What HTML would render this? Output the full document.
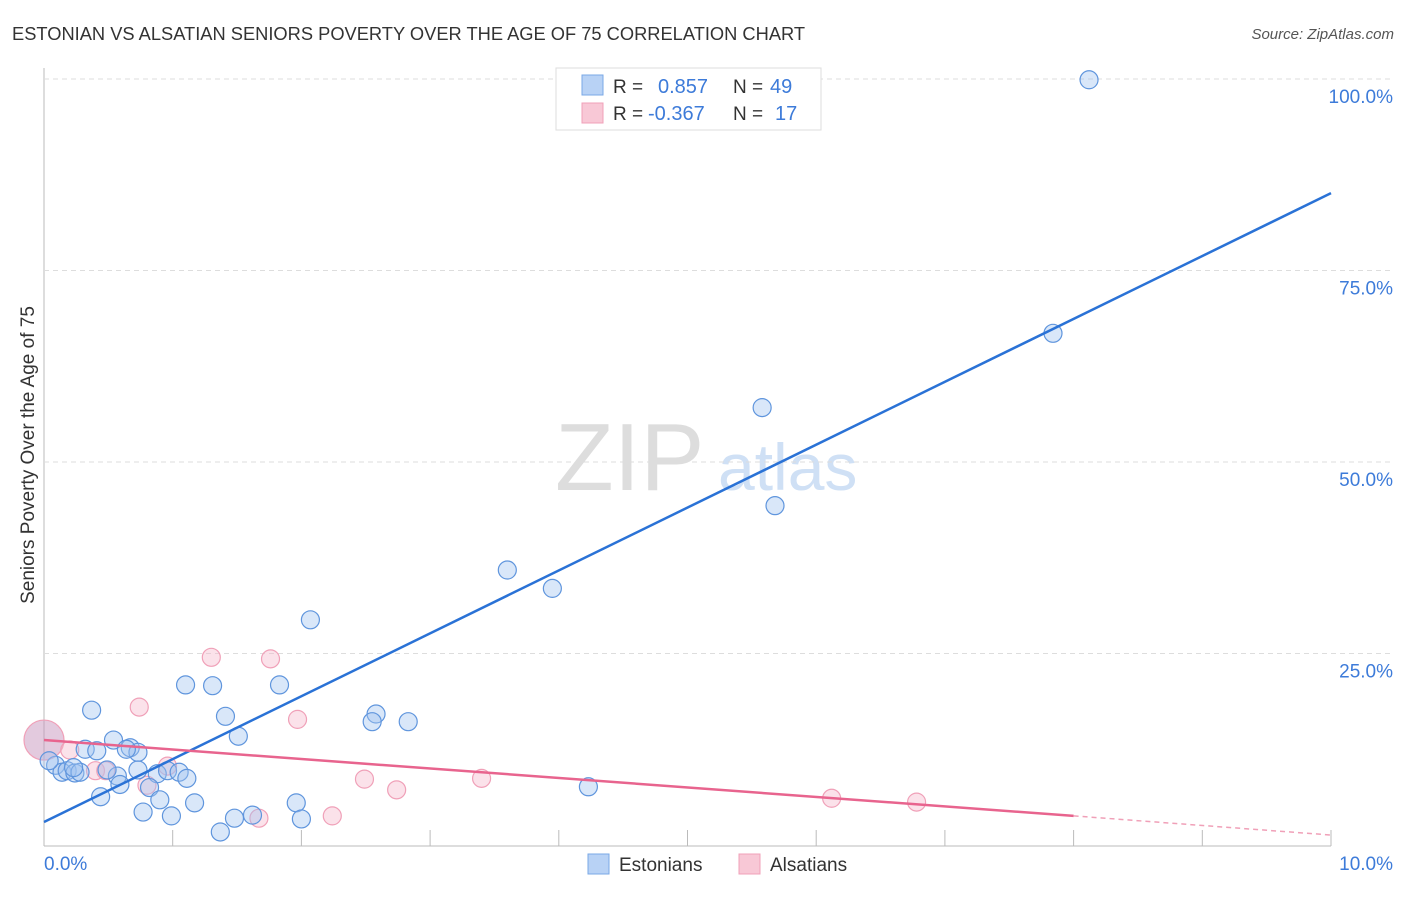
<!DOCTYPE html>
<html><head><meta charset="utf-8"><style>
body{margin:0;background:#fff;font-family:"Liberation Sans",sans-serif;}
svg text{font-family:"Liberation Sans",sans-serif;}
</style></head><body>
<svg id="chart" width="1406" height="892">
<text x="12" y="40" font-size="18.3" fill="#333">ESTONIAN VS ALSATIAN SENIORS POVERTY OVER THE AGE OF 75 CORRELATION CHART</text>
<text x="1394" y="39" font-size="15" fill="#555" font-style="italic" text-anchor="end">Source: ZipAtlas.com</text>
<text x="555" y="490" font-size="96" fill="#ddd" font-family="Liberation Serif">ZIP</text>
<text x="718" y="490" font-size="66" fill="#cfe0f5">atlas</text>
<text transform="translate(34,455) rotate(-90)" font-size="19" fill="#333" text-anchor="middle">Seniors Poverty Over the Age of 75</text>
<g id="grid"></g><g id="marks"></g>
<g>
<rect x="556" y="68" width="265" height="62" fill="#fff" stroke="#ddd"/>
<rect x="582" y="75" width="21" height="20" fill="#b8d2f5" stroke="#7aa8e6"/>
<rect x="582" y="103" width="21" height="20" fill="#f8c8d6" stroke="#f0a0b8"/>
<text x="613" y="93" font-size="19" fill="#333">R =</text>
<text x="658" y="93" font-size="20" fill="#3d7bd9">0.857</text>
<text x="733" y="93" font-size="19" fill="#333">N =</text>
<text x="770" y="93" font-size="20" fill="#3d7bd9">49</text>
<text x="613" y="120" font-size="19" fill="#333">R =</text>
<text x="648" y="120" font-size="20" fill="#3d7bd9">-0.367</text>
<text x="733" y="120" font-size="19" fill="#333">N =</text>
<text x="775" y="120" font-size="20" fill="#3d7bd9">17</text>
</g>
<g>
<rect x="588" y="854" width="21" height="20" fill="#b8d2f5" stroke="#7aa8e6"/>
<text x="619" y="871" font-size="19" fill="#333">Estonians</text>
<rect x="739" y="854" width="21" height="20" fill="#f8c8d6" stroke="#f0a0b8"/>
<text x="770" y="871" font-size="19" fill="#333">Alsatians</text>
</g>
</svg>
<script>
const yTicks=[25,50,75,100];
const yTickLabels=["25.0%","50.0%","75.0%","100.0%"];
const xTickLabels=["0.0%","10.0%"];
const blueX=[8.12,7.84,5.58,5.68,3.60,3.95,2.07,1.10,1.31,1.83,0.37,1.41,2.58,2.55,2.83,1.51,0.54,0.67,0.32,0.41,0.73,0.64,0.09,0.14,0.18,0.24,0.28,0.57,0.59,0.88,0.96,1.05,1.11,0.82,0.90,0.44,1.17,0.77,0.99,1.37,1.48,1.62,1.96,2.00,4.23,0.04,0.23,0.49,0.73];
const blueY=[99.9,66.8,57.1,44.3,35.9,33.5,29.4,20.9,20.8,20.9,17.6,16.8,17.1,16.1,16.1,14.2,13.7,12.7,12.5,12.3,12.1,12.5,10.4,9.5,9.7,9.4,9.5,9.0,7.9,9.3,9.7,9.5,8.7,7.5,5.9,6.3,5.5,4.3,3.8,1.7,3.5,3.9,5.5,3.4,7.6,11.0,10.1,9.8,9.8];
const pinkX=[0.0,1.30,1.76,0.74,1.97,0.20,0.40,0.48,0.80,0.96,1.67,2.24,2.49,2.74,3.40,6.12,6.78];
const pinkY=[13.7,24.5,24.3,18.0,16.4,12.4,9.7,9.7,7.8,10.3,3.5,3.8,8.6,7.2,8.7,6.1,5.6];
const pinkSize=[20,9,9,9,9,9,9,9,9,9,9,9,9,9,9,9,9];
const blueLine=[3.0,85.1];
const pinkLine=[13.7,3.8,1.3];
const X=v=>44+v*128.7, Y=v=>845-v*7.66;
const NS="http://www.w3.org/2000/svg";
const grid=document.getElementById('grid'), marks=document.getElementById('marks');
function mk(p,tag,a){const e=document.createElementNS(NS,tag);for(const k in a)e.setAttribute(k,a[k]);p.appendChild(e);return e;}
let ax=mk(grid,'line',{x1:44,y1:68,x2:44,y2:846,stroke:'#bbb'});


let bx=mk(grid,'line',{x1:44,y1:846,x2:1331,y2:846,stroke:'#bbb'});


for(let i=1;i<=10;i++){let t=mk(grid,'line',{x1:X(i),y1:830,x2:X(i),y2:846,stroke:'#bbb'});

}
yTicks.forEach((v,i)=>{let g=mk(grid,'line',{x1:44,y1:Y(v),x2:1394,y2:Y(v),stroke:'#ddd','stroke-dasharray':'5,4'});


let t=mk(grid,'text',{x:1393,y:Y(v)+24,'font-size':19,fill:'#3d7bd9','text-anchor':'end'});t.textContent=yTickLabels[i];

});
let xl0=mk(grid,'text',{x:44,y:870,'font-size':19,fill:'#3d7bd9'});xl0.textContent=xTickLabels[0];


let xl1=mk(grid,'text',{x:1393,y:870,'font-size':19,fill:'#3d7bd9','text-anchor':'end'});xl1.textContent=xTickLabels[1];


pinkX.forEach((v,i)=>{let c=mk(marks,'circle',{cx:X(v),cy:Y(pinkY[i]),r:pinkSize[i],fill:i==0?'rgba(200,150,190,0.5)':'rgba(246,182,202,0.4)',stroke:'#f0a0b8','stroke-width':1.2});

});
blueX.forEach((v,i)=>{let c=mk(marks,'circle',{cx:X(v),cy:Y(blueY[i]),r:9,fill:'rgba(160,196,240,0.4)',stroke:'#5f95dd','stroke-width':1.2});

});
let bl=mk(marks,'line',{x1:X(0),y1:Y(blueLine[0]),x2:X(10),y2:Y(blueLine[1]),stroke:'#2a72d6','stroke-width':2.5});


let pl=mk(marks,'line',{x1:X(0),y1:Y(pinkLine[0]),x2:X(8),y2:Y(pinkLine[1]),stroke:'#e8648e','stroke-width':2.5});


let pd=mk(marks,'line',{x1:X(8),y1:Y(pinkLine[1]),x2:X(10),y2:Y(pinkLine[2]),stroke:'#f0a0b8','stroke-width':1.5,'stroke-dasharray':'5,4'});


</script>
</body></html>
